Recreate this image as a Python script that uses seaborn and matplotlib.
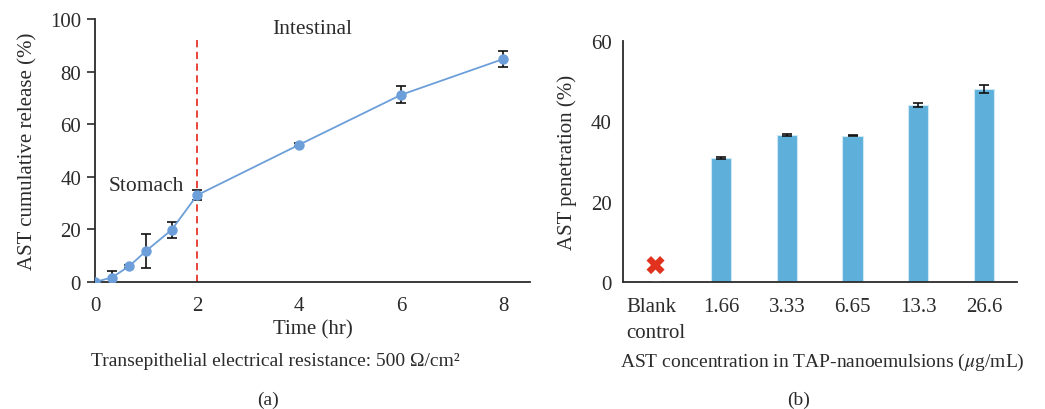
import numpy as np
import pandas as pd
import matplotlib
matplotlib.use("Agg")
import matplotlib.pyplot as plt
import seaborn as sns

# -------------------------------------------------
# Data
# -------------------------------------------------
# (a) cumulative release over time
time_hr = [0, 0.33, 0.67, 1, 1.5, 2, 4, 6, 8]
release_pct = [0, 1.7, 6.0, 11.8, 19.8, 33.0, 52.2, 71.2, 84.8]
release_err = [0, 2.3, 0.6, 6.3, 3.0, 1.8, 0.6, 3.2, 3.0]
boundary_hr = 2

# (b) penetration by concentration
conc_labels = ["Blank\ncontrol", "1.66", "3.33", "6.65", "13.3", "26.6"]
penetration_pct = [0, 30.8, 36.6, 36.4, 44.0, 48.0]
penetration_err = [0, 0.2, 0.2, 0.2, 0.5, 1.0]
blank_marker_y = 4.2

# -------------------------------------------------
# Style
# -------------------------------------------------
sns.set_theme(style="ticks")
plt.rcParams["font.family"] = ["Liberation Serif", "DejaVu Serif"]
plt.rcParams["mathtext.fontset"] = "stix"
FS = 15
ink = "#2b2b2b"
line_c = "#6c9fd9"
bar_c = "#5eb0db"

fig = plt.figure(figsize=(10.45, 4.1), dpi=100)
ax1 = fig.add_axes([0.0909, 0.3098, 0.4163, 0.6415])
ax2 = fig.add_axes([0.5959, 0.3098, 0.3770, 0.5885])

# -------------------------------------------------
# (a) line plot
# -------------------------------------------------
df_a = pd.DataFrame({"time": time_hr, "release": release_pct, "err": release_err})
ax1.errorbar(df_a["time"], df_a["release"], yerr=df_a["err"], fmt="none",
             ecolor="#111111", elinewidth=1.2, capsize=3.8, capthick=1.2, zorder=2)
sns.lineplot(data=df_a, x="time", y="release", ax=ax1, color=line_c,
             marker="o", markersize=7.5, markeredgewidth=0, linewidth=1.3, zorder=3)
ax1.plot([boundary_hr, boundary_hr], [0, 93], color="#e8342a", lw=1.3,
         ls=(0, (4, 2.5)), zorder=1)
ax1.text(1.0, 36.5, "Stomach", fontsize=FS + 0.5, ha="center", va="center", color=ink)
ax1.text(4.25, 96.5, "Intestinal", fontsize=FS + 0.5, ha="center", va="center", color=ink)

ax1.set_xlim(0, 8.52)
ax1.set_ylim(0, 100)
ax1.set_xticks([0, 2, 4, 6, 8])
ax1.set_yticks([0, 20, 40, 60, 80, 100])
ax1.tick_params(axis="x", length=0, pad=10, labelsize=FS, colors=ink)
ax1.tick_params(axis="y", length=6, width=1.2, pad=4, labelsize=FS, colors=ink)
ax1.set_xlabel("Time (hr)", fontsize=FS, color=ink, labelpad=3)
ax1.set_ylabel("AST cumulative release (%)", fontsize=FS, color=ink, labelpad=9)

# -------------------------------------------------
# (b) bar plot
# -------------------------------------------------
df_b = pd.DataFrame({"conc": conc_labels, "pen": penetration_pct, "err": penetration_err})
sns.barplot(data=df_b, x="conc", y="pen", ax=ax2, color=bar_c, width=0.31,
            saturation=1, edgecolor="#cfe8f5", linewidth=0.8, errorbar=None)
xpos = np.arange(len(conc_labels))
ax2.errorbar(xpos[1:], df_b["pen"][1:], yerr=df_b["err"][1:], fmt="none",
             ecolor="#111111", elinewidth=1.2, capsize=3.8, capthick=1.2, zorder=3)
ax2.plot([xpos[0] - 0.05, xpos[0] + 0.05], [0, 0], color="#888888", lw=1, zorder=3)
sns.scatterplot(x=[xpos[0]], y=[blank_marker_y], ax=ax2, marker="X", s=170,
                color="#e0321e", edgecolor="none", zorder=4, legend=False)

ax2.set_xlim(-0.5, 5.5)
ax2.set_ylim(0, 60)
ax2.set_yticks([0, 20, 40, 60])
ax2.tick_params(axis="x", length=0, pad=11, labelsize=FS, colors=ink)
ax2.tick_params(axis="y", length=0, pad=8, labelsize=FS, colors=ink)
for lab in ax2.get_xticklabels():
    lab.set_multialignment("left")
    lab.set_linespacing(1.45)
ax2.set_xlabel("")
ax2.set_ylabel("AST penetration (%)", fontsize=FS, color=ink, labelpad=10)

for ax in (ax1, ax2):
    sns.despine(ax=ax)
    for s in ("left", "bottom"):
        ax.spines[s].set_linewidth(1.3)
        ax.spines[s].set_color(ink)

# -------------------------------------------------
# captions
# -------------------------------------------------
fig.text(275 / 1045, 1 - 362 / 410, "Transepithelial electrical resistance: 500 Ω/cm²",
         fontsize=FS - 1, ha="center", va="center", color=ink)
fig.text(822 / 1045, 1 - 362 / 410, r"AST concentration in TAP-nanoemulsions ($\mu$g/mL)",
         fontsize=FS - 1, ha="center", va="center", color=ink)
fig.text(268 / 1045, 1 - 400 / 410, "(a)", fontsize=FS - 1, ha="center", va="center", color=ink)
fig.text(799 / 1045, 1 - 400 / 410, "(b)", fontsize=FS - 1, ha="center", va="center", color=ink)

fig.savefig("out.png", dpi=100)
